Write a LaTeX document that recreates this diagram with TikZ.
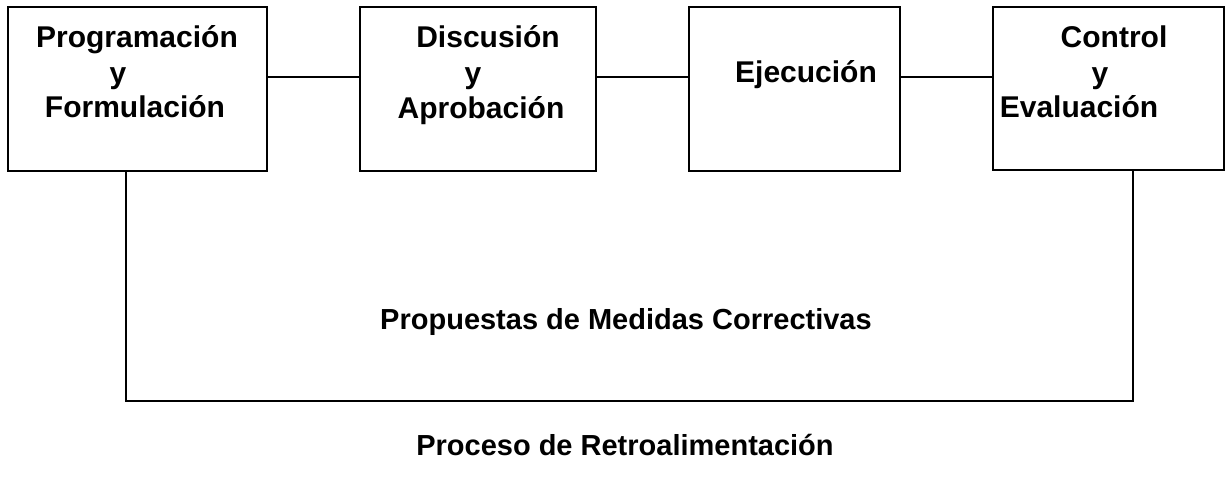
\documentclass[tikz,border=0pt]{standalone}
\usepackage{fontspec}
\setmainfont{Liberation Sans}
\begin{document}
\begin{tikzpicture}[x=1pt,y=-1pt,
  box/.style={draw,line width=2.6pt,rectangle,inner sep=0pt},
  txt/.style={anchor=base,inner sep=0pt,font=\fontsize{30}{36}\selectfont\bfseries},
  conn/.style={line width=2.6pt}]
\useasboundingbox (0,0) rectangle (1226,477);
% boxes
\node[box,minimum width=259pt,minimum height=164pt] (b1) at (137.5,89) {};
\node[box,minimum width=236pt,minimum height=164pt] (b2) at (478,89) {};
\node[box,minimum width=211pt,minimum height=164pt] (b3) at (794.5,89) {};
\node[box,minimum width=231pt,minimum height=163pt] (b4) at (1108.5,88.5) {};
% texts
\node[txt] (t1a) at (137,47) {Programación};
\node[txt] (t1b) at (118,83) {y};
\node[txt] (t1c) at (135,117) {Formulación};
\node[txt] (t2a) at (488,47) {Discusión};
\node[txt] (t2b) at (473,83) {y};
\node[txt] (t2c) at (481,118) {Aprobación};
\node[txt] (t3a) at (806,82) {Ejecución};
\node[txt] (t4a) at (1114,47) {Control};
\node[txt] (t4b) at (1100,83) {y};
\node[txt] (t4c) at (1079,117) {Evaluación};
\node[txt,font=\fontsize{29}{35}\selectfont\bfseries] (lab1) at (626,329) {Propuestas de Medidas Correctivas};
\node[txt,font=\fontsize{29}{35}\selectfont\bfseries] (lab2) at (625,455) {Proceso de Retroalimentación};
% connectors
\draw[conn] (b1.east |- 0,77) -- (b2.west |- 0,77);
\draw[conn] (b2.east |- 0,77) -- (b3.west |- 0,77);
\draw[conn] (b3.east |- 0,77) -- (b4.west |- 0,77);
\coordinate (f1) at (126,401);
\coordinate (f2) at (1133,401);
\draw[conn,line join=miter] (b1.south -| f1) -- (f1) -- (f2) -- (b4.south -| f2);
\end{tikzpicture}
\end{document}
